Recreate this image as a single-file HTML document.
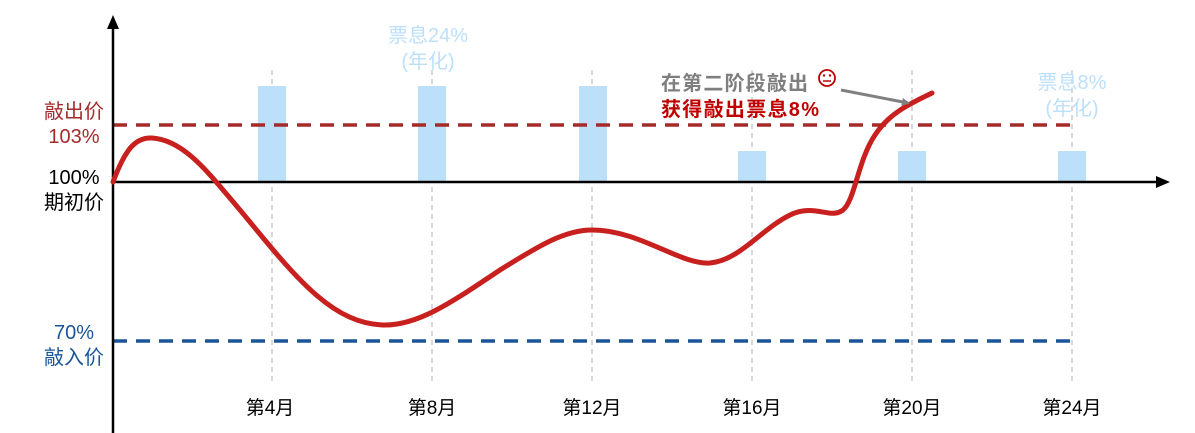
<!DOCTYPE html>
<html><head><meta charset="utf-8"><style>
body{margin:0;background:#fff}
svg{display:block;font-family:"Liberation Sans","Noto Sans CJK SC",sans-serif}
</style></head><body>
<svg width="1195" height="433" viewBox="0 0 1195 433">
<defs><marker id="ag" markerWidth="8" markerHeight="8" refX="6" refY="4" orient="auto" markerUnits="userSpaceOnUse"><path d="M0,0 L8,4 L0,8Z" fill="#808080"/></marker></defs>
<g stroke="#c8ccd4" stroke-width="1.5" stroke-dasharray="5,4">
<line x1="272" y1="70" x2="272" y2="384"/><line x1="432" y1="70" x2="432" y2="384"/><line x1="592" y1="70" x2="592" y2="384"/><line x1="752" y1="70" x2="752" y2="384"/><line x1="912" y1="70" x2="912" y2="384"/><line x1="1072" y1="70" x2="1072" y2="384"/>
</g>
<g fill="#bde0fa">
<rect x="258" y="86" width="28" height="96"/><rect x="418" y="86" width="28" height="96"/><rect x="579" y="86" width="28" height="96"/>
<rect x="738" y="151" width="28" height="31"/><rect x="898" y="151" width="28" height="31"/><rect x="1058" y="151" width="28" height="31"/>
</g>
<line x1="113" y1="125" x2="1072" y2="125" stroke="#a52a2a" stroke-width="3.5" stroke-dasharray="14,9"/>
<line x1="113" y1="341" x2="1072" y2="341" stroke="#1a5697" stroke-width="3.5" stroke-dasharray="14,9"/>
<line x1="113" y1="182" x2="1160" y2="182" stroke="#000" stroke-width="2.5"/>
<path d="M1170,182 L1156,176 L1156,188Z" fill="#000"/>
<line x1="113" y1="433" x2="113" y2="26" stroke="#000" stroke-width="2.5"/>
<path d="M113,15 L107,29 L119,29Z" fill="#000"/>
<path d="M113,182 C125,150 135,137 152,138 C185,140 210,175 240,210 C290,270 330,325 385,325 C420,325 455,300 500,270 C540,245 565,230 592,230 C640,230 680,265 710,263 C740,260 760,230 790,215 C815,203 830,220 843,210 C855,200 858,160 875,135 C890,112 912,103 932,93" fill="none" stroke="#c8201e" stroke-width="5" stroke-linecap="round"/>
<line x1="841" y1="90" x2="908" y2="103" stroke="#808080" stroke-width="3" marker-end="url(#ag)"/>
<g font-size="20" text-anchor="middle">
<text x="74" y="118" fill="#a52a2a">敲出价</text><text x="74" y="143" fill="#a52a2a">103%</text>
<text x="74" y="184" fill="#000">100%</text><text x="74" y="209" fill="#000">期初价</text>
<text x="74" y="339" fill="#1a5697">70%</text><text x="74" y="364" fill="#1a5697">敲入价</text>
<text x="428" y="42" fill="#bde0fa">票息24%</text><text x="428" y="68" fill="#bde0fa">(年化)</text>
<text x="1072" y="89" fill="#bde0fa">票息8%</text><text x="1072" y="115" fill="#bde0fa">(年化)</text>
</g>
<g font-size="19" text-anchor="middle" fill="#000">
<text x="270" y="414">第4月</text><text x="432" y="414">第8月</text><text x="592" y="414">第12月</text>
<text x="752" y="414">第16月</text><text x="912" y="414">第20月</text><text x="1072" y="414">第24月</text>
</g>
<g font-size="20" font-weight="bold">
<text x="661" y="90" fill="#7f7f7f" textLength="147">在第二阶段敲出</text>
<text x="661" y="116" fill="#c00000" textLength="158">获得敲出票息8%</text>
</g>
<g stroke="#c00000" stroke-width="1.8" fill="none"><circle cx="827" cy="78" r="8"/></g>
<circle cx="824" cy="75.5" r="1.2" fill="#c00000"/><circle cx="830" cy="75.5" r="1.2" fill="#c00000"/>
<line x1="823" y1="81" x2="831" y2="81" stroke="#c00000" stroke-width="1.5"/>
</svg>
</body></html>
